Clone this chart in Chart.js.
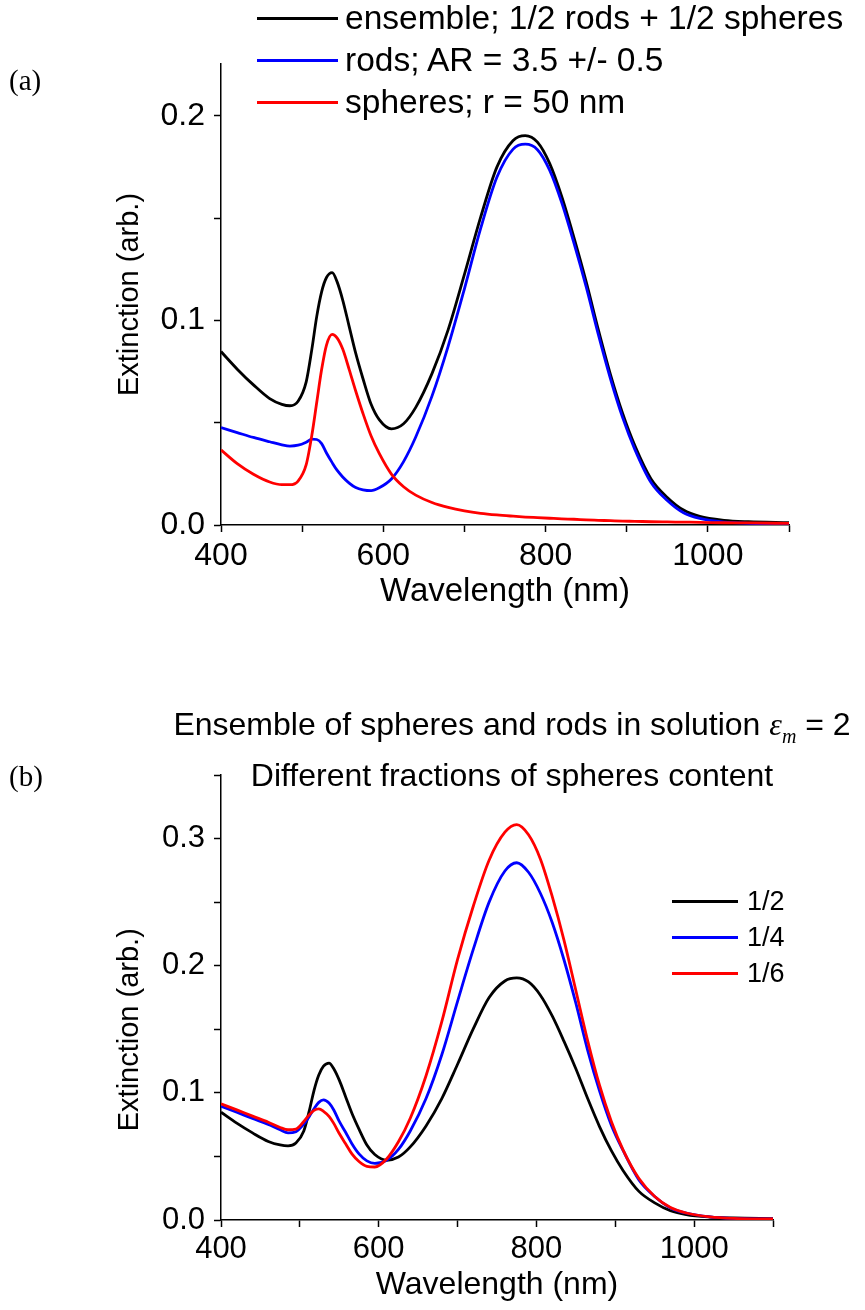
<!DOCTYPE html>
<html>
<head>
<meta charset="utf-8">
<script src="https://cdn.jsdelivr.net/npm/chart.js@4.4.1/dist/chart.umd.min.js"></script>
<style>
  body { margin: 0; background: #fff; }
  #page { position: relative; width: 865px; height: 1310px; overflow: hidden;
          font-family: "Liberation Sans", Arial, sans-serif; color: #000; }
  .box { position: absolute; left: 0; width: 865px; }
  .panel { position: absolute; left: 9px; font-family: "Liberation Serif", "Times New Roman", serif;
           font-size: 29px; line-height: 32px; }
  .legend-row { position: absolute; display: flex; align-items: center; height: 40px; white-space: nowrap; }
  .swatch { display: inline-block; height: 3px; }
  .head { position: absolute; white-space: nowrap; font-size: 32px; line-height: 40px; transform: translateX(-50%); }
  .head i { font-family: "Liberation Serif", "Times New Roman", serif; }
  .head sub { font-size: 20px; vertical-align: -8px; }
</style>
</head>
<body>
<div id="page">
  <div class="box" style="top:0;height:640px"><canvas id="chartA" width="865" height="640"></canvas></div>
  <div class="box" style="top:680px;height:630px"><canvas id="chartB" width="865" height="630"></canvas></div>

  <div class="panel" style="top:64px">(a)</div>
  <div class="panel" style="top:760px">(b)</div>

  <div class="head" style="left:512px;top:704px">Ensemble of spheres and rods in solution <i>&epsilon;</i><sub><i>m</i></sub> = 2</div>
  <div class="head" style="left:512px;top:755px">Different fractions of spheres content</div>

  <div id="legendA"></div>
  <div id="legendB"></div>
</div>

<script>
// wavelength grid (nm), shared by every curve
const wavelength = [400, 420, 440, 460, 475, 485, 495, 505, 512, 518, 524, 530, 537, 543, 550, 558,
  566, 575, 585, 595, 610, 625, 640, 660, 680, 700, 720, 740, 760, 775, 790, 805, 820, 835, 850,
  865, 880, 895, 910, 930, 950, 970, 990, 1020, 1050, 1100];

// (a) ensemble 1/2 rods + 1/2 spheres  (also the 1/2 curve in (b))
const ensembleHalf = [0.0848, 0.0762, 0.0685, 0.0618, 0.0590, 0.0583, 0.0605, 0.0700, 0.0860, 0.1020,
  0.1140, 0.1210, 0.1234, 0.1190, 0.1100, 0.0970, 0.0840, 0.0715, 0.0590, 0.0515, 0.0470, 0.0495,
  0.0575, 0.0740, 0.0955, 0.1225, 0.1505, 0.1750, 0.1880, 0.1904, 0.1872, 0.1768, 0.1605, 0.1405,
  0.1190, 0.0955, 0.0735, 0.0545, 0.0388, 0.0225, 0.0135, 0.0073, 0.0042, 0.0023, 0.0016, 0.0011];

// (a) rods; AR = 3.5 +/- 0.5
const rods = [0.0476, 0.0452, 0.0428, 0.0407, 0.0392, 0.0386, 0.0390, 0.0405, 0.0420, 0.0418,
  0.0398, 0.0352, 0.0305, 0.0268, 0.0235, 0.0205, 0.0183, 0.0172, 0.0168, 0.0182, 0.0225, 0.0310,
  0.0430, 0.0630, 0.0875, 0.1155, 0.1450, 0.1700, 0.1838, 0.1862, 0.1835, 0.1735, 0.1575, 0.1378,
  0.1165, 0.0932, 0.0715, 0.0525, 0.0370, 0.0208, 0.0120, 0.0060, 0.0032, 0.0014, 0.0008, 0.0004];

// (a) spheres; r = 50 nm
const spheres = [0.0367, 0.0300, 0.0248, 0.0210, 0.0197, 0.0197, 0.0215, 0.0295, 0.0440, 0.0600,
  0.0760, 0.0880, 0.0932, 0.0915, 0.0860, 0.0760, 0.0655, 0.0545, 0.0435, 0.0350, 0.0249, 0.0187,
  0.0146, 0.0110, 0.0086, 0.0069, 0.0057, 0.0049, 0.0043, 0.0039, 0.0036, 0.0033, 0.0030, 0.0028,
  0.0025, 0.0023, 0.0021, 0.0019, 0.0018, 0.0016, 0.0015, 0.0014, 0.0013, 0.0011, 0.0010, 0.0008];

// (b) 1/4 spheres content
const quarter = [0.0895, 0.0847, 0.0799, 0.0751, 0.0710, 0.0685, 0.0695, 0.0755, 0.0815, 0.0875,
  0.0925, 0.0945, 0.0920, 0.0865, 0.0775, 0.0690, 0.0600, 0.0520, 0.0465, 0.0445, 0.0470, 0.0555,
  0.0700, 0.0955, 0.1300, 0.1720, 0.2130, 0.2500, 0.2745, 0.2810, 0.2735, 0.2570, 0.2340, 0.2045,
  0.1705, 0.1335, 0.1015, 0.0745, 0.0545, 0.0315, 0.0185, 0.0095, 0.0055, 0.0025, 0.0013, 0.0008];

// (b) 1/6 spheres content
const sixth = [0.0914, 0.0866, 0.0817, 0.0769, 0.0728, 0.0710, 0.0715, 0.0775, 0.0828, 0.0862,
  0.0874, 0.0855, 0.0815, 0.0760, 0.0680, 0.0600, 0.0520, 0.0460, 0.0422, 0.0417, 0.0480, 0.0615,
  0.0800, 0.1135, 0.1560, 0.2050, 0.2470, 0.2830, 0.3050, 0.3110, 0.3030, 0.2840, 0.2545, 0.2200,
  0.1805, 0.1410, 0.1060, 0.0775, 0.0550, 0.0326, 0.0185, 0.0098, 0.0055, 0.0025, 0.0013, 0.0008];

const xTickLabels = [400, 600, 800, 1000];
const legendA = ['ensemble; 1/2 rods + 1/2 spheres', 'rods; AR = 3.5 +/- 0.5', 'spheres; r = 50 nm'];
const legendB = ['1/2', '1/4', '1/6'];
const colors = ['#000000', '#0000ff', '#ff0000'];

Chart.defaults.font.family = "'Liberation Sans', Arial, sans-serif";
Chart.defaults.color = '#000';

function pts(values) {
  return values.map((v, i) => ({ x: wavelength[i], y: v }));
}

function series(label, values, color, order) {
  return {
    label: label, data: pts(values), borderColor: color, backgroundColor: color,
    borderWidth: 2.8, pointRadius: 0, cubicInterpolationMode: 'monotone', fill: false, order: order
  };
}

function makeChart(id, datasets, o) {
  return new Chart(document.getElementById(id), {
    type: 'line',
    data: { datasets: datasets },
    options: {
      responsive: false,
      animation: false,
      events: [],
      layout: { padding: { left: 0, top: o.top, right: o.right, bottom: 0 } },
      plugins: { legend: { display: false }, tooltip: { enabled: false } },
      scales: {
        x: {
          type: 'linear', min: 400, max: 1100,
          afterFit: s => { s.height = o.xHeight; },
          border: { display: true, color: '#000', width: 1.5 },
          grid: { drawOnChartArea: false, drawTicks: true, tickLength: 7, tickColor: '#000', tickWidth: 1.5 },
          ticks: {
            stepSize: 100, autoSkip: false, maxRotation: 0, padding: o.xPad,
            font: { size: o.tickSize },
            callback: v => xTickLabels.includes(v) ? String(v) : ''
          },
          title: { display: true, text: 'Wavelength (nm)', font: { size: o.xTitleSize }, padding: { top: 0, bottom: o.xTitlePad } }
        },
        y: {
          type: 'linear', min: 0, max: o.yMax,
          afterFit: s => { s.width = 221; },
          border: { display: true, color: '#000', width: 1.5 },
          grid: { drawOnChartArea: false, drawTicks: true, tickLength: 7, tickColor: '#000', tickWidth: 1.5 },
          ticks: {
            stepSize: 0.05, includeBounds: false, autoSkip: false, padding: 9,
            font: { size: o.tickSize },
            callback: v => Math.abs(v * 10 - Math.round(v * 10)) < 1e-6 ? v.toFixed(1) : ''
          },
          // trailing spaces push the (b) title down a little, like the original
          title: { display: true, text: o.yTitle, font: { size: 29 }, padding: { top: 113, bottom: 0 } }
        }
      }
    }
  });
}

const chartA = makeChart('chartA', [
  series(legendA[0], ensembleHalf, colors[0], 2),
  series(legendA[1], rods, colors[1], 1),
  series(legendA[2], spheres, colors[2], 0)
], { top: 64, right: 76, xHeight: 115, xPad: 5, xTitlePad: 28, xTitleSize: 33, yMax: 0.2254, tickSize: 32,
     yTitle: 'Extinction (arb.)' });

const chartB = makeChart('chartB', [
  series(legendB[0], ensembleHalf, colors[0], 2),
  series(legendB[1], quarter, colors[1], 1),
  series(legendB[2], sixth, colors[2], 0)
], { top: 95, right: 92, xHeight: 90, xPad: 4, xTitlePad: 6, xTitleSize: 32, yMax: 0.35, tickSize: 31,
     yTitle: 'Extinction (arb.)        ' });

// html legends built from the chart datasets
function htmlLegend(chart, el, o) {
  chart.data.datasets.forEach((ds, i) => {
    const row = document.createElement('div');
    row.className = 'legend-row';
    row.style.left = o.left + 'px';
    row.style.top = (o.rows[i] - 20) + 'px';
    row.style.fontSize = o.size + 'px';
    const sw = document.createElement('span');
    sw.className = 'swatch';
    sw.style.width = o.line + 'px';
    sw.style.background = ds.borderColor;
    sw.style.marginRight = o.gap + 'px';
    const tx = document.createElement('span');
    tx.textContent = ds.label;
    row.appendChild(sw);
    row.appendChild(tx);
    el.appendChild(row);
  });
}
htmlLegend(chartA, document.getElementById('legendA'), { left: 257, rows: [18, 60, 102], line: 81, gap: 7, size: 33.5 });
htmlLegend(chartB, document.getElementById('legendB'), { left: 672, rows: [901, 937, 973], line: 66, gap: 9, size: 27 });
</script>
</body>
</html>
